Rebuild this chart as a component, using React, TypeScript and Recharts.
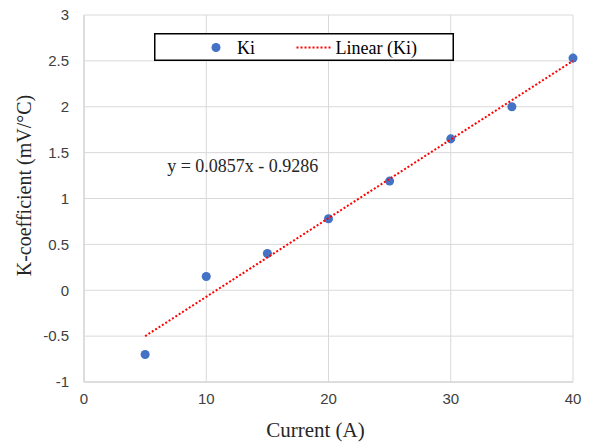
import React from "react";
import {
  ScatterChart,
  Scatter,
  XAxis,
  YAxis,
  ZAxis,
  CartesianGrid,
  Legend,
  ReferenceDot,
} from "recharts";

const current = [5, 10, 15, 20, 25, 30, 35, 40];
const kCoeff = [-0.7, 0.15, 0.4, 0.78, 1.19, 1.65, 2.0, 2.53];
const trendX = [5, 40];
const trendY = [-0.5, 2.5];
const xTicks = [0, 10, 20, 30, 40];
const yTicks = [-1, -0.5, 0, 0.5, 1, 1.5, 2, 2.5, 3];
const seriesName = "Ki";
const trendName = "Linear (Ki)";
const equationText = "y = 0.0857x - 0.9286";
const xTitle = "Current (A)";
const yTitle = "K-coefficient (mV/°C)";

const pointData = current.map((x, i) => ({ x, y: kCoeff[i] }));
const trendData = trendX.map((x, i) => ({ x, y: trendY[i] }));

const SERIF = "'Liberation Serif', 'Times New Roman', serif";
const SANS = "'Liberation Sans', Arial, sans-serif";

const LegendBox = () => (
  <svg width={300} height={28} style={{ display: "block" }}>
    <rect x={0.75} y={0.75} width={298.5} height={26.5} fill="#fff" stroke="#000" strokeWidth={1.5} />
    <circle cx={62} cy={14.5} r={4.5} fill="#4472C4" />
    <text x={83} y={21} fontFamily={SERIF} fontSize={18} fill="#000">
      {seriesName}
    </text>
    <line x1={142.5} y1={14.5} x2={178} y2={14.5} stroke="#FF0000" strokeWidth={2} strokeDasharray="2 2" />
    <text x={181.5} y={21} fontFamily={SERIF} fontSize={18} fill="#000">
      {trendName}
    </text>
  </svg>
);

export default function App() {
  return (
    <div style={{ position: "absolute", left: 0, top: 0 }}>
      <ScatterChart
        width={596}
        height={444}
        margin={{ top: 15, right: 23, left: 0, bottom: 0 }}
        style={{ background: "#fff" }}
      >
        <CartesianGrid stroke="#d9d9d9" strokeWidth={1} />
        <XAxis
          type="number"
          dataKey="x"
          domain={[0, 40]}
          ticks={xTicks}
          height={62}
          axisLine={{ stroke: "#d9d9d9", strokeWidth: 1.5 }}
          tickLine={false}
          tickSize={0}
          tickMargin={11}
          tick={{ fontFamily: SANS, fontSize: 15, fill: "#404040" }}
          label={{
            content: (props: any) => {
              const vb = props.viewBox || {};
              const cx = (vb.x ?? 84) + (vb.width ?? 489) / 2 - 13;
              return (
                <text x={cx} y={437} textAnchor="middle" fontFamily={SERIF} fontSize={21} fill="#262626">
                  {xTitle}
                </text>
              );
            },
          }}
        />
        <YAxis
          type="number"
          dataKey="y"
          domain={[-1, 3]}
          ticks={yTicks}
          width={84}
          axisLine={{ stroke: "#d9d9d9", strokeWidth: 1.5 }}
          tickLine={false}
          tickSize={0}
          tickMargin={15}
          tick={{ fontFamily: SANS, fontSize: 15, fill: "#404040" }}
          label={{
            content: (props: any) => {
              const vb = props.viewBox || {};
              const cy = (vb.y ?? 15) + (vb.height ?? 367) / 2 - 13;
              const cx = 24;
              return (
                <text
                  x={cx}
                  y={cy}
                  transform={`rotate(-90 ${cx} ${cy})`}
                  textAnchor="middle"
                  dominantBaseline="central"
                  fontFamily={SERIF}
                  fontSize={20}
                  fill="#262626"
                >
                  {yTitle}
                </text>
              );
            },
          }}
        />
        <ZAxis range={[70, 70]} />
        <Legend
          verticalAlign="middle"
          layout="horizontal"
          wrapperStyle={{ position: "absolute", left: 154, top: 33, width: 300, height: 28 }}
          content={() => <LegendBox />}
        />
        <Scatter name={seriesName} data={pointData} fill="#4472C4" isAnimationActive={false} />
        <Scatter
          name={trendName}
          data={trendData}
          isAnimationActive={false}
          line={{ stroke: "#FF0000", strokeWidth: 2, strokeDasharray: "2 2" }}
          lineType="joint"
          shape={() => <g />}
        />
        <ReferenceDot
          x={6.8}
          y={1.29}
          r={0}
          fill="none"
          stroke="none"
          label={{
            content: (props: any) => {
              const vb = props.viewBox || {};
              return (
                <text x={vb.x} y={vb.y} textAnchor="start" fontFamily={SERIF} fontSize={18} fill="#262626">
                  {equationText}
                </text>
              );
            },
          }}
        />
      </ScatterChart>
    </div>
  );
}
